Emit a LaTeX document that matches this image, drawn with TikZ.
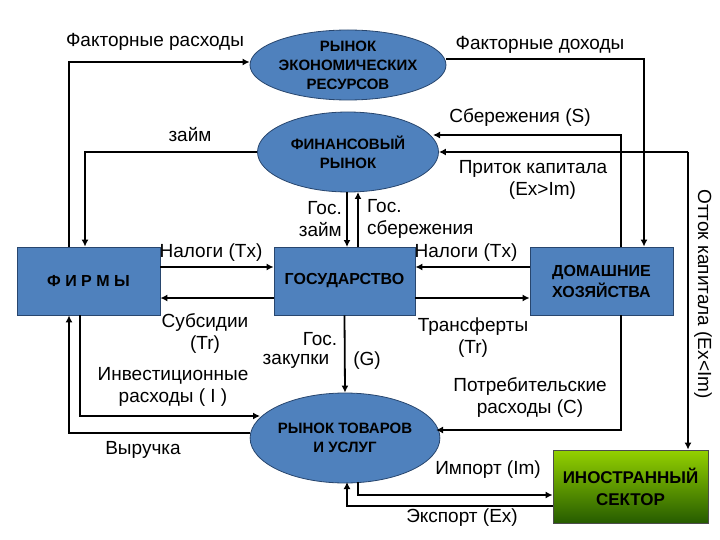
\documentclass[tikz,border=0pt]{standalone}
\usepackage{fontspec}
\setmainfont{Liberation Sans}
\usetikzlibrary{shapes.geometric,arrows.meta}
\definecolor{bl}{RGB}{79,129,189}
\definecolor{bld}{RGB}{40,70,110}
\begin{document}
\begin{tikzpicture}[x=1pt,y=-1pt,
 ell/.style={ellipse,draw=bld,fill=bl,thick,inner sep=0,font=\bfseries\fontsize{15}{19}\selectfont,align=center},
 box/.style={draw=bld,fill=bl,thick,inner sep=0,font=\bfseries\fontsize{16}{21}\selectfont,align=center},
 ar/.style={draw,line width=1.8pt,-{Latex[length=7pt,width=7pt]}},
 lb/.style={font=\fontsize{19}{22}\selectfont,align=center,inner sep=1pt}]
\useasboundingbox (0,0) rectangle (720,540);
\node[ell,minimum width=194,minimum height=70] (res) at (348,65) {РЫНОК\\ЭКОНОМИЧЕСКИХ\\РЕСУРСОВ};
\node[ell,minimum width=181,minimum height=80] (fin) at (348,152) {ФИНАНСОВЫЙ\\РЫНОК};
\node[ell,minimum width=187,minimum height=90] (goods) at (345,438) {РЫНОК ТОВАРОВ\\И УСЛУГ};
\node[box,minimum width=143,minimum height=68] (firm) at (88.5,281) {Ф И Р М Ы};
\node[box,minimum width=141,minimum height=68] (gov) at (344.5,281) {ГОСУДАРСТВО};
\node[box,minimum width=143,minimum height=68] (hh) at (601.5,281) {ДОМАШНИЕ\\ХОЗЯЙСТВА};
\node[draw=black!70,thick,inner sep=0,minimum width=155,minimum height=73,
 top color=green!40!olive!60!yellow,bottom color=green!30!black!70!olive,
 font=\bfseries\fontsize{17}{22}\selectfont,align=center] (for) at (630.5,486.5) {ИНОСТРАННЫЙ\\СЕКТОР};
% flows
\coordinate (c1) at (69,62); \coordinate (c2) at (644,59);
\draw[ar] (firm.north -| c1) -- (c1) -- (res.west |- c1);
\draw[ar] (res.east |- c2) -- (c2) -- (hh.north -| c2);
\coordinate (c3) at (85,152);
\draw[ar] (fin.west) -- (c3) -- (firm.north -| c3);
\coordinate (c4) at (621,135);
\draw[ar] (hh.north -| c4) -- (c4) -- (433,135);
\coordinate (c5) at (688,152);
\draw[ar] (c5) -- (fin.east);
\draw[ar] (c5) -- (for.north -| c5);
\draw[ar] (347,192) -- (347,247);
\draw[ar] (358,247) -- (358,192);
\draw[ar] (firm.east |- 0,267) -- (gov.west |- 0,267);
\draw[ar] (hh.west |- 0,267) -- (gov.east |- 0,267);
\draw[ar] (gov.west |- 0,298) -- (firm.east |- 0,298);
\draw[ar] (gov.east |- 0,298) -- (hh.west |- 0,298);
\draw[ar] (gov.south) -- (goods.north);
\coordinate (c6) at (80,416);
\draw[ar] (firm.south -| c6) -- (c6) -- (260,416);
\coordinate (c7) at (69,433);
\draw[ar] (goods.west |- c7) -- (c7) -- (firm.south -| c7);
\coordinate (c8) at (621,430);
\draw[ar] (hh.south -| c8) -- (c8) -- (436,430);
\coordinate (c9) at (358,495);
\draw[ar] (358,482) -- (c9) -- (for.west |- c9);
\coordinate (c10) at (347,506);
\draw[ar] (for.west |- c10) -- (c10) -- (347,482);
% labels
\node[lb] (l1) at (155,42) {Факторные расходы};
\node[lb] (l2) at (540,45) {Факторные доходы};
\node[lb] (l3) at (520,118) {Сбережения (S)};
\node[lb] (l4) at (190,135) {займ};
\node[lb] (l5) at (533,180) {Приток капитала\\\quad(Ex>Im)};
\node[lb,align=right,anchor=east] (l6) at (343,219) {Гос.\\займ};
\node[lb,align=left,anchor=west] (l7) at (366,219) {Гос.\\сбережения};
\node[lb] (l8) at (211,253) {Налоги (Tx)};
\node[lb] (l9) at (466,253) {Налоги (Tx)};
\node[lb] (l10) at (205,333) {Субсидии\\(Tr)};
\node[lb] (l11) at (320,339) {Гос.};
\node[lb] (l12) at (296,361) {закупки};
\node[lb] (l13) at (367,361) {(G)};
\node[lb] (l14) at (473,338) {Трансферты\\(Tr)};
\node[lb] (l15) at (173,387) {Инвестиционные\\расходы ( I )};
\node[lb] (l16) at (143,450) {Выручка};
\node[lb] (l17) at (530,398) {Потребительские\\расходы (C)};
\node[lb] (l18) at (488,470) {Импорт (Im)};
\node[lb] (l19) at (462,518) {Экспорт (Ex)};
\node[lb,rotate=-90] (l20) at (703,294) {Отток капитала (Ex<Im)};
\end{tikzpicture}
\end{document}
